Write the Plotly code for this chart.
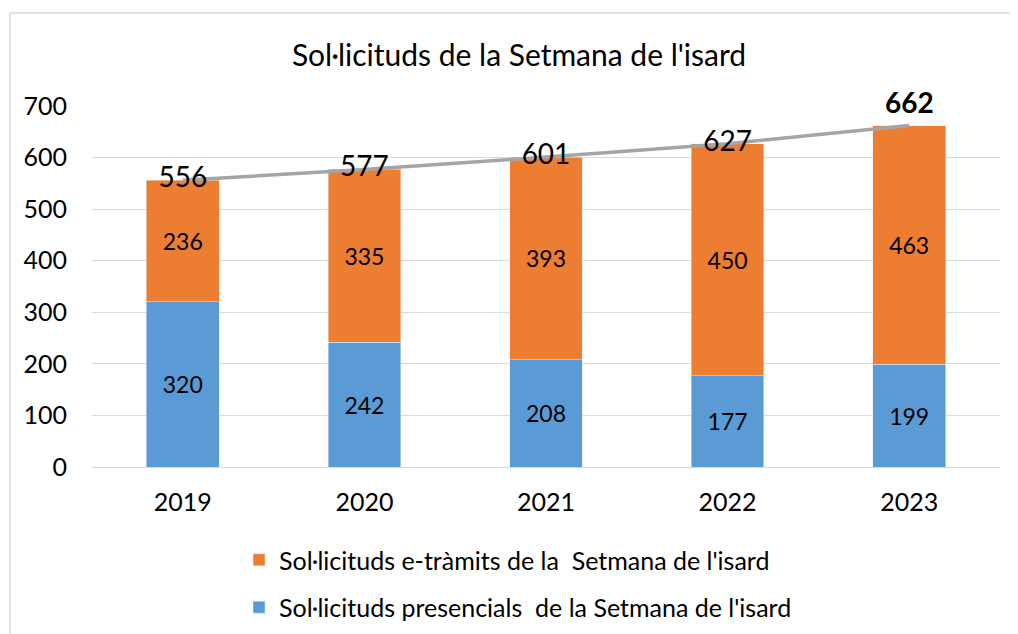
import plotly.graph_objects as go

years = ["2019", "2020", "2021", "2022", "2023"]
presencials = [320, 242, 208, 177, 199]
etramits = [236, 335, 393, 450, 463]
totals = [556, 577, 601, 627, 662]

name_e = "Sol·licituds e-tràmits de la\u00a0 Setmana de l'isard"
name_p = "Sol·licituds presencials\u00a0 de la Setmana de l'isard"
title_text = "Sol·licituds de la Setmana de l'isard"

FONT = "Lato"
OFF = 8  # page body margin
W, H = 1018 - OFF, 634 - OFF
# plot area in reference page coords: x 92..1000, y 106..467
L, R = 92 - OFF, 1018 - 1000
T, B = 106 - OFF, 634 - 467

fig = go.Figure()
fig.add_trace(go.Bar(
    x=years, y=presencials, name=name_p, marker_color="#5B9BD5",
    text=[str(v) for v in presencials], textposition="inside",
    insidetextanchor="middle", textangle=0,
    textfont=dict(family=FONT, size=23, color="black"),
    legendgroup="p", legendrank=2,
))
fig.add_trace(go.Bar(
    x=years, y=etramits, name=name_e, marker_color="#ED7D31",
    text=[str(v) for v in etramits], textposition="inside",
    insidetextanchor="middle", textangle=0,
    textfont=dict(family=FONT, size=23, color="black"),
    legendgroup="e", legendrank=1,
))
# total line; last label drawn separately (bold, above the point)
fig.add_trace(go.Scatter(
    x=years, y=totals, mode="lines+text",
    text=[str(v) for v in totals[:-1]] + [""],
    textposition="middle center",
    textfont=dict(family=FONT, size=28, color="black"),
    line=dict(color="#A5A5A5", width=3.5),
    showlegend=False, cliponaxis=False,
))

pw = W - L - R
ph = H - T - B

def px_x(x):
    return (x - OFF - L) / pw

def px_y(y):
    return (H - B - (y - OFF)) / ph

# category axis: annotation position given as category index of the last year
fig.add_annotation(
    x=len(years) - 1, y=totals[-1], text=f"<b>{totals[-1]}</b>", showarrow=False,
    yshift=24, font=dict(family=FONT, size=28, color="black"),
)

fig.update_layout(
    width=W, height=H,
    margin=dict(l=L, r=R, t=T, b=B, autoexpand=False),
    barmode="stack", bargap=0.6,
    plot_bgcolor="white", paper_bgcolor="white",
    font=dict(family=FONT, size=25, color="black"),
    title=dict(text=title_text, x=(519 - OFF) / W, xref="container", xanchor="center",
               y=1 - (55 - OFF) / H, yref="container", yanchor="middle",
               font=dict(family=FONT, size=30, color="black")),
    xaxis=dict(type="category", range=[-0.5, len(years) - 0.5],
               showgrid=False, showline=False, ticks="outside", ticklen=13,
               tickcolor="rgba(0,0,0,0)", tickfont=dict(family=FONT, size=25)),
    yaxis=dict(range=[0, 700], dtick=100, showgrid=True, gridcolor="#D9D9D9",
               gridwidth=1.3, zeroline=True, zerolinecolor="#D9D9D9", zerolinewidth=1.3,
               ticks="outside", ticklen=19, tickcolor="rgba(0,0,0,0)",
               tickfont=dict(family=FONT, size=25)),
    legend=dict(orientation="v", traceorder="grouped", tracegroupgap=12,
                x=px_x(239), xanchor="left", y=px_y(537), yanchor="top",
                font=dict(family=FONT, size=25), bgcolor="rgba(0,0,0,0)"),
    uniformtext=dict(minsize=20, mode="show"),
    shapes=[dict(type="rect", xref="paper", yref="paper",
                 x0=px_x(10), x1=px_x(1030),
                 y0=px_y(660), y1=px_y(13),
                 line=dict(color="#D9D9D9", width=1.5), fillcolor="rgba(0,0,0,0)",
                 layer="below")],
)

fig.write_html("out.html")
